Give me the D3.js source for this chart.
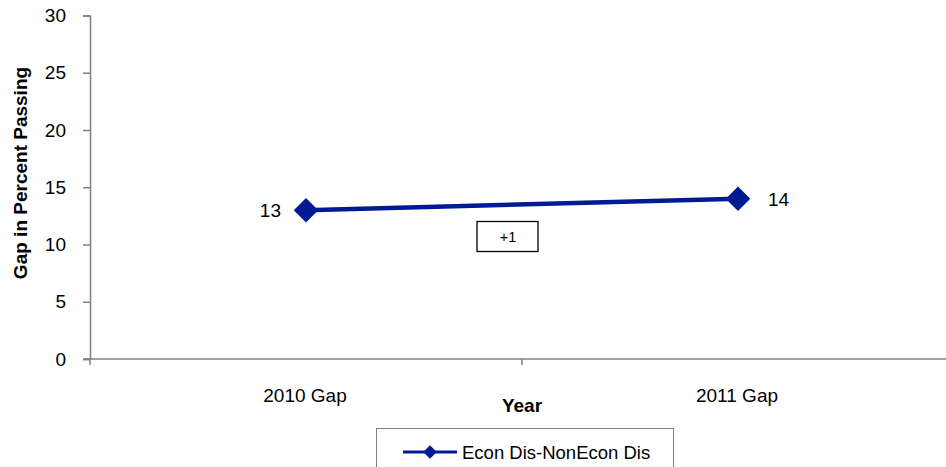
<!DOCTYPE html>
<html>
<head>
<meta charset="utf-8">
<script src="https://cdn.jsdelivr.net/npm/d3@7"></script>
<style>
  html, body { margin: 0; padding: 0; background: #fff; }
  svg { display: block; font-family: "Liberation Sans", Arial, sans-serif; }
</style>
</head>
<body>
<svg id="chart" width="946" height="467"></svg>
<script>
// Gap in percent passing, economically disadvantaged vs. not
const categories = ["2010 Gap", "2011 Gap"];
const gapValues = [13, 14];
const yTicks = [0, 5, 10, 15, 20, 25, 30];
const seriesName = "Econ Dis-NonEcon Dis";
const changeLabel = "+1";

const svg = d3.select("#chart");
const lineColor = "#001a94";
const axisColor = "#808080";
const fontSize = 19;

const x = d3.scalePoint().domain(categories).range([90, 954]).padding(0.5);
const y = d3.scaleLinear().domain([0, 30]).range([359, 15.5]);

// y axis
const yAxis = svg.append("g").attr("transform", "translate(90,0)")
  .call(d3.axisLeft(y).tickValues(yTicks).tickSize(7).tickPadding(17));
yAxis.select(".domain").attr("stroke", axisColor).attr("stroke-width", 1.5);
yAxis.selectAll(".tick line").attr("stroke", axisColor).attr("stroke-width", 1.5);
yAxis.selectAll(".tick text").attr("font-size", fontSize).attr("fill", "#000")
  .attr("font-family", "Liberation Sans, Arial, sans-serif");

// x axis with boundary ticks between categories
const xAxisG = svg.append("g").attr("transform", `translate(0,${y(0)})`);
xAxisG.append("line").attr("x1", 83).attr("x2", 946).attr("y1", 0).attr("y2", 0)
  .attr("stroke", axisColor).attr("stroke-width", 1.5);
const step = x.step();
const boundaries = [x(categories[0]) - step / 2, x(categories[0]) + step / 2];
xAxisG.selectAll("line.bound").data(boundaries).enter().append("line")
  .attr("class", "bound")
  .attr("x1", d => d).attr("x2", d => d).attr("y1", 0).attr("y2", 6)
  .attr("stroke", axisColor).attr("stroke-width", 1.5);
xAxisG.selectAll("text.cat").data(categories).enter().append("text")
  .attr("class", "cat")
  .attr("x", d => x(d) - 1).attr("y", 43)
  .attr("text-anchor", "middle").attr("font-size", fontSize).attr("fill", "#000")
  .text(d => d);

// axis titles
svg.append("text")
  .attr("transform", `translate(27,173) rotate(-90)`)
  .attr("text-anchor", "middle").attr("font-size", fontSize).attr("font-weight", "bold")
  .text("Gap in Percent Passing");
svg.append("text")
  .attr("x", boundaries[1]).attr("y", 412)
  .attr("text-anchor", "middle").attr("font-size", fontSize).attr("font-weight", "bold")
  .text("Year");

// series line and markers
const pts = categories.map((c, i) => ({ c, v: gapValues[i] }));
svg.append("path").datum(pts)
  .attr("d", d3.line().x(d => x(d.c)).y(d => y(d.v)))
  .attr("fill", "none").attr("stroke", lineColor).attr("stroke-width", 4.5);
svg.selectAll("path.mark").data(pts).enter().append("path")
  .attr("class", "mark")
  .attr("transform", d => `translate(${x(d.c)},${y(d.v)}) rotate(45)`)
  .attr("d", d3.symbol().type(d3.symbolSquare).size(300))
  .attr("fill", lineColor);

// value labels
svg.selectAll("text.val").data(pts).enter().append("text")
  .attr("class", "val")
  .attr("x", (d, i) => i === 0 ? x(d.c) - 25 : x(d.c) + 30)
  .attr("y", d => y(d.v) + 7)
  .attr("text-anchor", (d, i) => i === 0 ? "end" : "start")
  .attr("font-size", fontSize).attr("fill", "#000")
  .text(d => d.v);

// change annotation box
const boxCx = boundaries[1] - 15;
svg.append("rect").attr("x", boxCx - 30).attr("y", 221.5).attr("width", 61).attr("height", 30)
  .attr("fill", "#fff").attr("stroke", "#000").attr("stroke-width", 1.3);
svg.append("text").attr("x", boxCx + 1).attr("y", 241.5).attr("text-anchor", "middle")
  .attr("font-size", 14.5).text(changeLabel);

// legend
const lg = svg.append("g");
lg.append("rect").attr("x", 376.5).attr("y", 428.5).attr("width", 297).attr("height", 50)
  .attr("fill", "#fff").attr("stroke", "#808080").attr("stroke-width", 1);
lg.append("line").attr("x1", 403).attr("x2", 457).attr("y1", 452).attr("y2", 452)
  .attr("stroke", lineColor).attr("stroke-width", 3);
lg.append("path").attr("transform", "translate(430,452) rotate(45)")
  .attr("d", d3.symbol().type(d3.symbolSquare).size(90)).attr("fill", lineColor);
lg.append("text").attr("x", 462).attr("y", 459).attr("font-size", 18.5).text(seriesName);
</script>
</body>
</html>
